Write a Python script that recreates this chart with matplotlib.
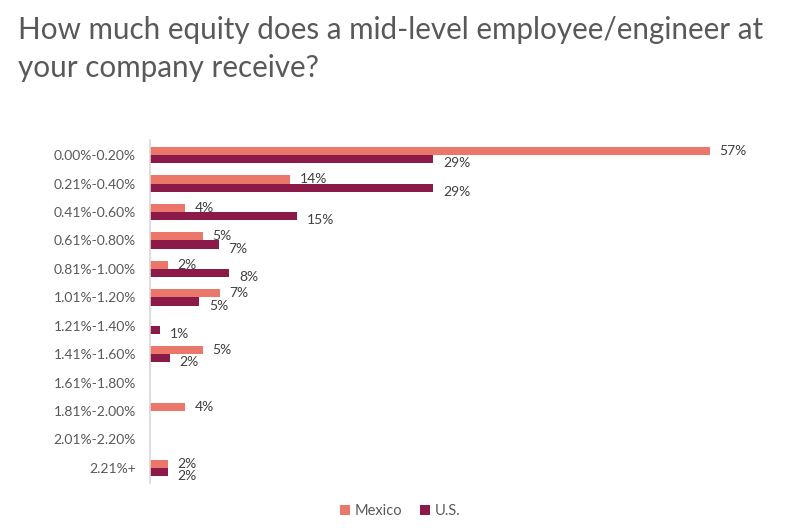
import matplotlib.pyplot as plt
import numpy as np

plt.rcParams["font.family"] = ["Lato", "DejaVu Sans"]

RANGES = [
    "0.00%-0.20%", "0.21%-0.40%", "0.41%-0.60%", "0.61%-0.80%",
    "0.81%-1.00%", "1.01%-1.20%", "1.21%-1.40%", "1.41%-1.60%",
    "1.61%-1.80%", "1.81%-2.00%", "2.01%-2.20%", "2.21%+",
]
MEXICO = [57.1, 14.3, 3.6, 5.4, 1.8, 7.1, 0, 5.4, 0, 3.6, 0, 1.8]
US = [28.9, 28.9, 15.0, 7.0, 8.1, 5.0, 1.0, 2.0, 0, 0, 0, 1.8]

COLOR_MX = "#EA7769"
COLOR_US = "#8B1A48"
TEXT_COLOR = "#595959"

fig = plt.figure(figsize=(7.89, 5.31), dpi=100)
ax = fig.add_axes([150 / 789, 1 - 483 / 531, 588 / 789, 343 / 531])

y = np.arange(len(RANGES))
h = 0.29
ax.barh(y - h / 2, MEXICO, height=h, color=COLOR_MX, label="Mexico")
ax.barh(y + h / 2, US, height=h, color=COLOR_US, label="U.S.")

for i in range(len(RANGES)):
    if MEXICO[i] > 0:
        ax.annotate(f"{MEXICO[i]:.0f}%", (MEXICO[i], y[i] - h / 2),
                    xytext=(7, 0), textcoords="offset points",
                    va="center", ha="left", fontsize=10, color="#404040")
    if US[i] > 0:
        ax.annotate(f"{US[i]:.0f}%", (US[i], y[i] + h / 2),
                    xytext=(7, -3), textcoords="offset points",
                    va="center", ha="left", fontsize=10, color="#404040")

ax.set_xlim(0, 60)
ax.set_ylim(len(RANGES) - 0.47, -0.53)
ax.set_yticks(y)
ax.set_yticklabels(RANGES, fontsize=10, color=TEXT_COLOR)
ax.tick_params(axis="y", length=0, pad=10)
ax.set_xticks([])
for side in ["top", "right", "bottom"]:
    ax.spines[side].set_visible(False)
ax.spines["left"].set_color("#d9d9d9")
ax.spines["left"].set_linewidth(1.2)

fig.text(18 / 789, 1 - 16 / 531,
         "How much equity does a mid-level employee/engineer at\nyour company receive?",
         fontsize=21.3, color=TEXT_COLOR,
         ha="left", va="top", linespacing=1.45)

fig.legend(loc="center", bbox_to_anchor=(400 / 789, 1 - 511 / 531), ncol=2,
           frameon=False, fontsize=10.5, handlelength=0.7, handleheight=0.7,
           handletextpad=0.3, columnspacing=1.2, labelcolor=TEXT_COLOR)

fig.savefig("out.png", dpi=100)
